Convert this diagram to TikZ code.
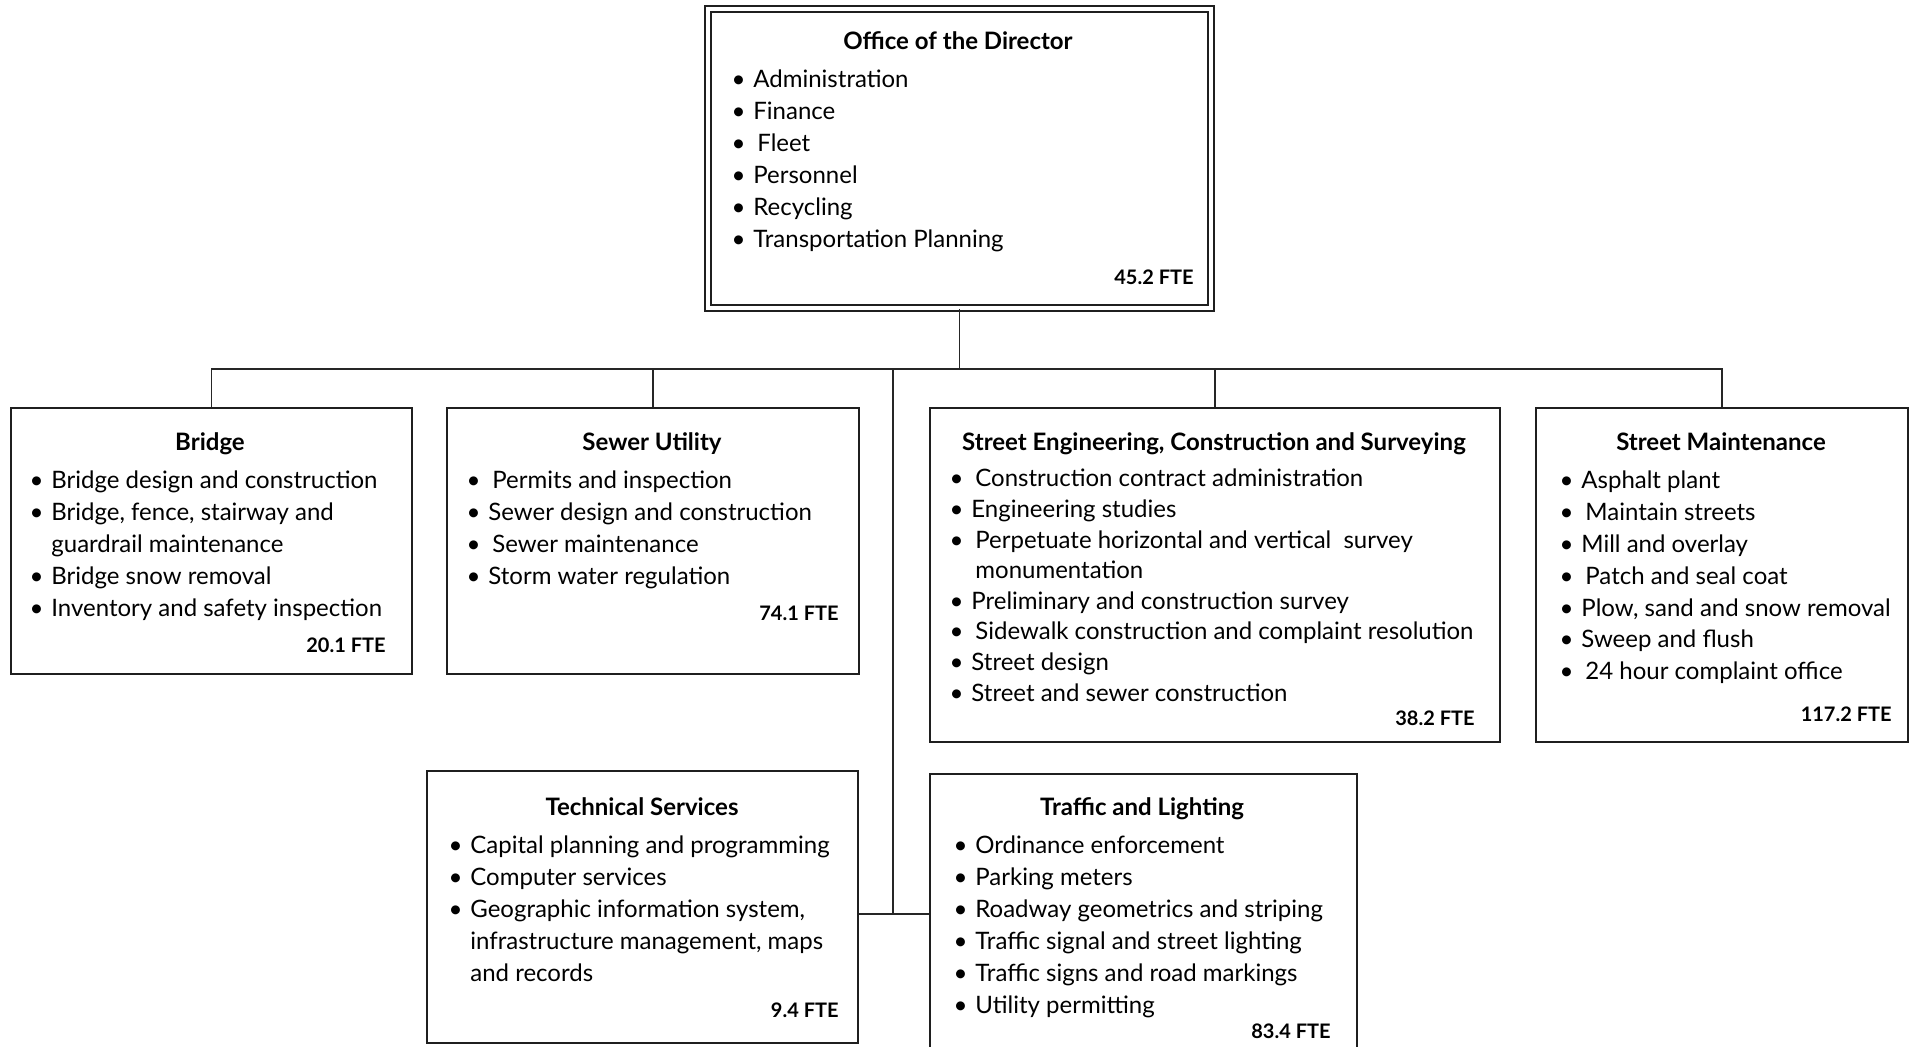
\documentclass[tikz,border=0pt]{standalone}
\usepackage{fontspec}
\setmainfont{Lato}
\usetikzlibrary{calc}
\newcommand\bl{\llap{\textbullet\hspace{3.9pt}}}
\tikzset{
  box/.style={draw=black!88, line width=1pt, rectangle, inner sep=0pt, fill=white},
  dirbox/.style={draw=black!88, line width=0.9pt, double, double distance=2pt, rectangle, inner sep=0pt},
  conn/.style={draw=black!85, line width=0.65pt},
  ttl/.style={anchor=base, inner sep=0pt, font=\fontsize{12}{16}\selectfont\bfseries},
  lst/.style={anchor=base west, inner sep=0pt, align=left, font=\fontsize{12}{16}\selectfont},
  fte/.style={anchor=base east, inner sep=0pt, font=\fontsize{10}{12}\selectfont\bfseries},
}
\newcommand\pbox[6][box]{%
  \node[#1, anchor=north west, minimum width={(#5-#3)*0.5pt}, minimum height={(#6-#4)*0.5pt}] (#2) at (#3,#4) {};}
\begin{document}
\begin{tikzpicture}[x=0.5pt, y=-0.5pt]
\useasboundingbox (0,0) rectangle (1911,1047);
% boxes
\pbox[dirbox]{dir}{707}{8}{1210}{307}
\pbox{bridge}{10}{407}{411}{673}
\pbox{sewer}{446}{407}{858}{673}
\pbox{seng}{929}{407}{1499}{741}
\pbox{smaint}{1535}{407}{1907}{741}
\pbox{tech}{426}{770}{857}{1042}
\pbox{traffic}{929}{773}{1356}{1060}
% connectors
\coordinate (bus) at (958,369);
\coordinate (mid) at (893,369);
\coordinate (midb) at (893,914);
\draw[conn] (dir.south) -- (dir.south |- bus) -| (bridge.north);
\draw[conn] (dir.south |- bus) -| (sewer.north);
\draw[conn] (dir.south |- bus) -| (seng.north);
\draw[conn] (dir.south |- bus) -| (smaint.north);
\draw[conn] (mid) -- (midb);
\draw[conn] (tech.east |- midb) -- (traffic.west |- midb);
% Director
\node[ttl] (dirt) at (958,49.5) {Office of the Director};
\node[lst] (dirl) at (753,88) {\begin{tabular}[t]{@{}l@{}}
\bl Administration\\ \bl Finance\\ \bl\hspace{2pt}Fleet\\ \bl Personnel\\ \bl Recycling\\ \bl Transportation Planning
\end{tabular}};
\node[fte] (dirf) at (1194,285) {45.2 FTE};
% Bridge
\node[ttl] (bridget) at (210,450.5) {Bridge};
\node[lst] (bridgel) at (51,489) {\begin{tabular}[t]{@{}l@{}}
\bl Bridge design and construction\\ \bl Bridge, fence, stairway and\\ guardrail maintenance\\ \bl Bridge snow removal\\ \bl Inventory and safety inspection
\end{tabular}};
\node[fte] (bridgef) at (386,652) {20.1 FTE};
% Sewer
\node[ttl] (sewert) at (652,450.5) {Sewer Utility};
\node[lst] (sewerl) at (488,489) {\begin{tabular}[t]{@{}l@{}}
\bl\hspace{2pt}Permits and inspection\\ \bl Sewer design and construction\\ \bl\hspace{2pt}Sewer maintenance\\ \bl Storm water regulation
\end{tabular}};
\node[fte] (sewerf) at (839,620) {74.1 FTE};
% Street Engineering
\node[ttl] (sengt) at (1214,450.5) {Street Engineering, Construction and Surveying};
\node[lst, font=\fontsize{12}{15.3}\selectfont] (sengl) at (971,487) {\begin{tabular}[t]{@{}l@{}}
\bl\hspace{2pt}Construction contract administration\\ \bl Engineering studies\\ \bl\hspace{2pt}Perpetuate horizontal and vertical\ \ survey\\ \hspace{2pt}monumentation\\ \bl Preliminary and construction survey\\ \bl\hspace{2pt}Sidewalk construction and complaint resolution\\ \bl Street design\\ \bl Street and sewer construction
\end{tabular}};
\node[fte] (sengf) at (1475,725) {38.2 FTE};
% Street Maintenance
\node[ttl] (smaintt) at (1721,450.5) {Street Maintenance};
\node[lst, font=\fontsize{12}{15.9}\selectfont] (smaintl) at (1581,489) {\begin{tabular}[t]{@{}l@{}}
\bl Asphalt plant\\ \bl\hspace{2pt}Maintain streets\\ \bl Mill and overlay\\ \bl\hspace{2pt}Patch and seal coat\\ \bl Plow, sand and snow removal\\ \bl Sweep and flush\\ \bl\hspace{2pt}24 hour complaint office
\end{tabular}};
\node[fte] (smaintf) at (1892,721) {117.2 FTE};
% Technical Services
\node[ttl] (techt) at (642,815.5) {Technical Services};
\node[lst] (techl) at (470,853) {\begin{tabular}[t]{@{}l@{}}
\bl Capital planning and programming\\ \bl Computer services\\ \bl Geographic information system,\\ infrastructure management, maps\\ and records
\end{tabular}};
\node[fte] (techf) at (839,1017) {9.4 FTE};
% Traffic and Lighting
\node[ttl] (traft) at (1142,815.5) {Traffic and Lighting};
\node[lst] (trafl) at (975,853) {\begin{tabular}[t]{@{}l@{}}
\bl Ordinance enforcement\\ \bl Parking meters\\ \bl Roadway geometrics and striping\\ \bl Traffic signal and street lighting\\ \bl Traffic signs and road markings\\ \bl Utility permitting
\end{tabular}};
\node[fte] (traff) at (1331,1038) {83.4 FTE};
\end{tikzpicture}
\end{document}
